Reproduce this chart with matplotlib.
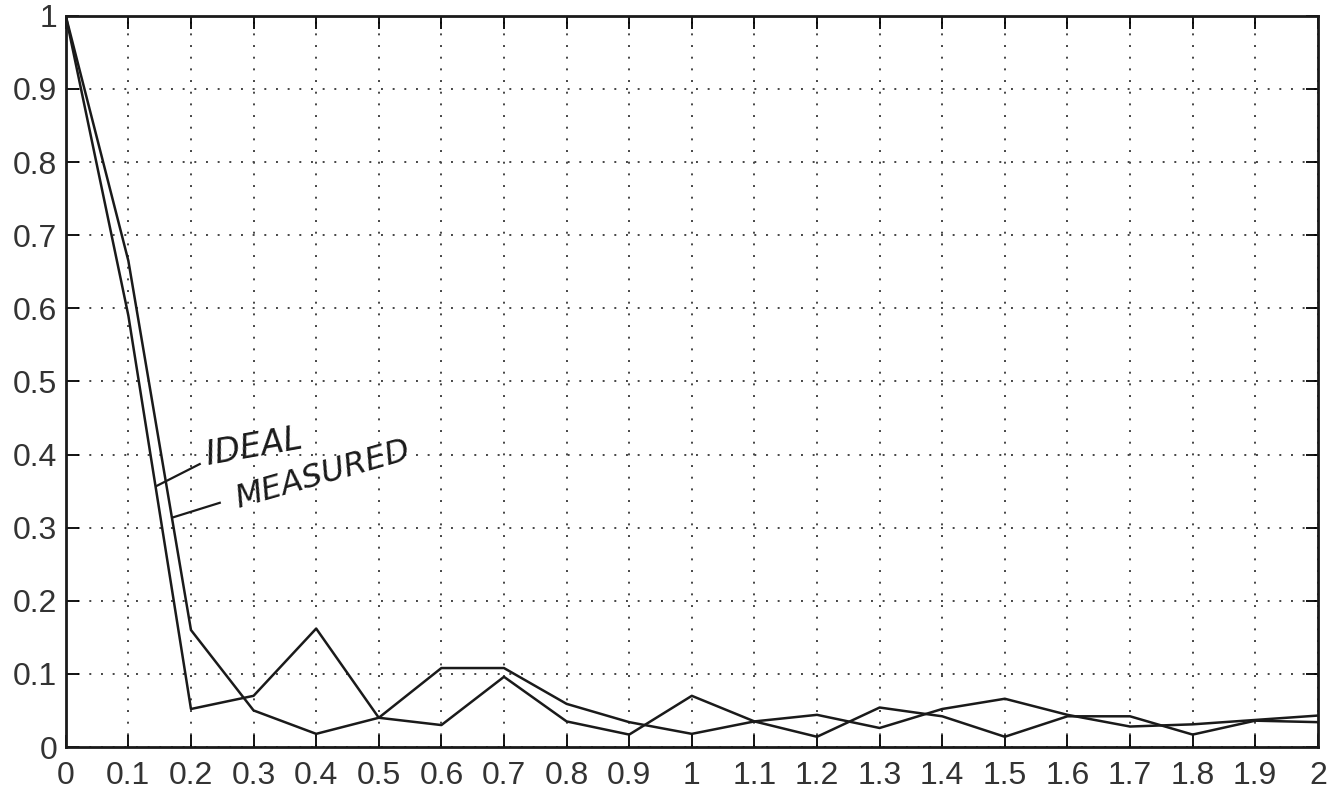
import numpy as np
import matplotlib.pyplot as plt

# --- Data ---
x = np.round(np.arange(0, 2.01, 0.1), 1)
ideal = [1.0, 0.59, 0.052, 0.07, 0.162, 0.04, 0.108, 0.108, 0.059, 0.034, 0.018,
         0.035, 0.044, 0.026, 0.052, 0.066, 0.044, 0.028, 0.031, 0.037, 0.043]
measured = [1.0, 0.665, 0.16, 0.05, 0.018, 0.04, 0.03, 0.096, 0.035, 0.017, 0.07,
            0.035, 0.014, 0.054, 0.042, 0.014, 0.042, 0.042, 0.017, 0.036, 0.034]

xticks = np.round(np.arange(0, 2.01, 0.1), 1)
xtick_labels = ['0', '0.1', '0.2', '0.3', '0.4', '0.5', '0.6', '0.7', '0.8', '0.9', '1',
                '1.1', '1.2', '1.3', '1.4', '1.5', '1.6', '1.7', '1.8', '1.9', '2']
yticks = np.round(np.arange(0, 1.01, 0.1), 1)
ytick_labels = ['0', '0.1', '0.2', '0.3', '0.4', '0.5', '0.6', '0.7', '0.8', '0.9', '1']

plt.rcParams['font.family'] = ['Liberation Sans', 'DejaVu Sans']

fig = plt.figure(figsize=(13.42, 7.93), dpi=100)
ax = fig.add_axes([0.049, 0.058, 0.933, 0.922])

ax.plot(x, ideal, color='#1a1a1a', linewidth=1.8)
ax.plot(x, measured, color='#1a1a1a', linewidth=1.8)

ax.set_xlim(0, 2)
ax.set_ylim(0, 1)
ax.set_xticks(xticks)
ax.set_xticklabels(xtick_labels)
ax.set_yticks(yticks)
ax.set_yticklabels(ytick_labels)
ax.tick_params(direction='in', length=9, width=1.3, top=True, right=True,
               labelsize=23, labelcolor='#333333')
ax.tick_params(axis='x', pad=10)
ax.tick_params(axis='y', pad=6)
ax.grid(True, color='#444444', linestyle=(0, (1, 5)), linewidth=1.4)
for s in ax.spines.values():
    s.set_linewidth(2)
    s.set_color('#1a1a1a')

# --- handwritten style labels with pointer strokes ---
ax.plot([0.145, 0.214], [0.357, 0.387], color='#1a1a1a', linewidth=1.6)
ax.plot([0.171, 0.246], [0.314, 0.334], color='#1a1a1a', linewidth=1.6)
ax.text(0.300, 0.410, 'IDEAL', fontsize=24, style='italic', rotation=10,
        color='#1a1a1a', ha='center', va='center', family='DejaVu Sans')
ax.text(0.410, 0.372, 'MEASURED', fontsize=23, style='italic', rotation=16,
        color='#1a1a1a', ha='center', va='center', family='DejaVu Sans')

fig.savefig('out.png', dpi=100)
